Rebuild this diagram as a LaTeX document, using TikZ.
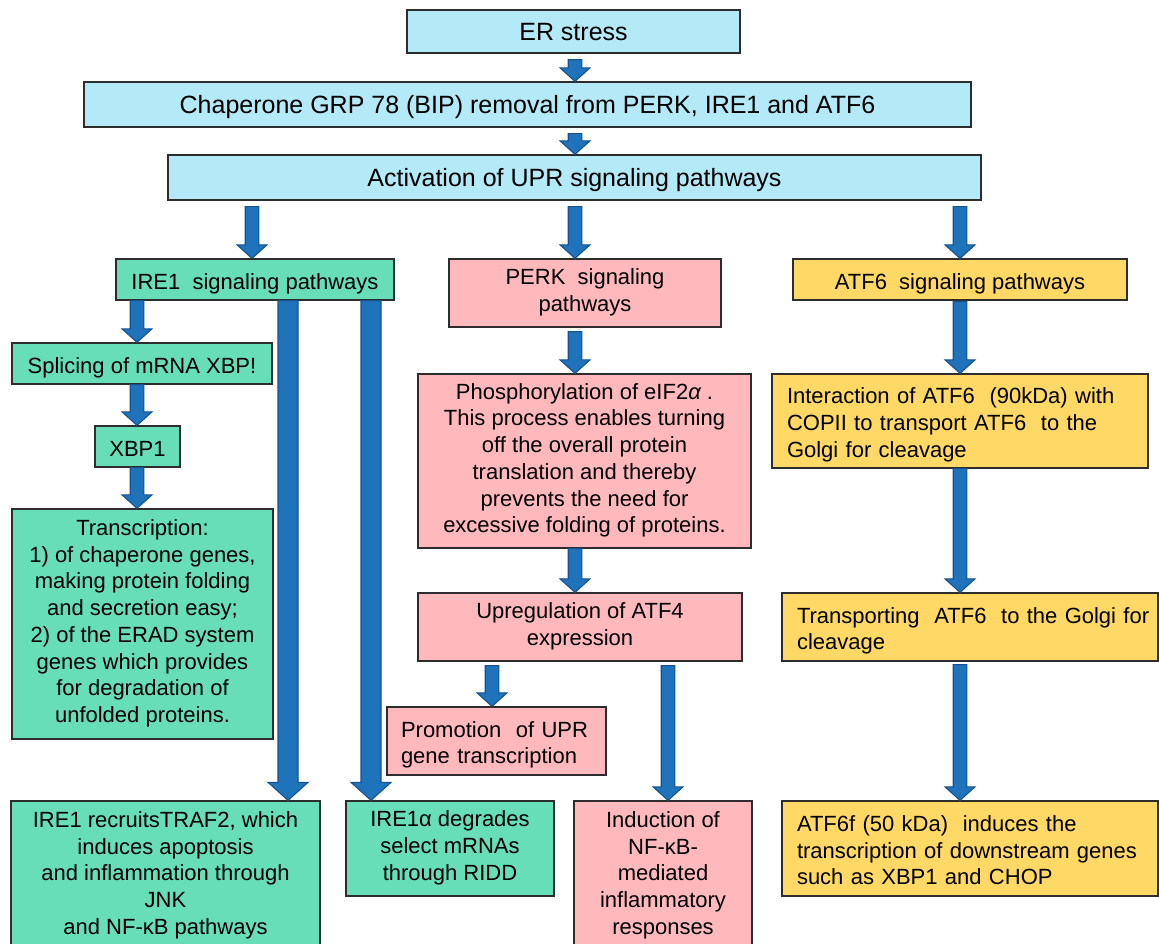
\documentclass[tikz,border=0pt]{standalone}
\usepackage{fontspec}
\setmainfont{Liberation Sans}
\usetikzlibrary{calc}
\definecolor{cy}{RGB}{180,234,248}
\definecolor{gr}{RGB}{103,222,184}
\definecolor{pk}{RGB}{255,185,189}
\definecolor{ye}{RGB}{255,216,102}
\definecolor{boxline}{RGB}{45,45,45}
\definecolor{arrfill}{RGB}{31,115,186}
\definecolor{arrline}{RGB}{22,82,145}
\newcommand\ftop{\fontsize{25}{30}\selectfont}
\newcommand\fboxtxt{\fontsize{22}{26.7}\selectfont}
\tikzset{
  box/.style={draw=boxline, line width=1.3pt, inner sep=0pt, align=center, font=\fboxtxt, text=black,
    execute at begin node={\rule{0pt}{25pt}}, execute at end node={\rule[-6pt]{0pt}{0pt}}},
  topbox/.style={box, fill=cy, font=\ftop,
    execute at begin node={\rule{0pt}{27pt}}, execute at end node={\rule[-9pt]{0pt}{0pt}}},
  lbox/.style={box, align=left, inner xsep=15pt},
  flowstyle/.style={fill=arrfill, draw=arrline, line width=1.1pt, line join=miter},
}
% #1 x, #2 from, #3 to, #4 gap, #5 half shaft, #6 half head, #7 head length
\newcommand\flowpoly[7]{%
  \filldraw[flowstyle] let \p2=(#2.south), \p3=(#3.north) in
   (#1pt-#5pt,\y2-#4pt) -- (#1pt-#5pt,\y3+#7pt) -- (#1pt-#6pt,\y3+#7pt) -- (#1pt,\y3)
   -- (#1pt+#6pt,\y3+#7pt) -- (#1pt+#5pt,\y3+#7pt) -- (#1pt+#5pt,\y2-#4pt) -- cycle;}
\newcommand\smallflow[4]{\flowpoly{#1}{#2}{#3}{#4}{6.8}{15}{13.5}}
\newcommand\bigflow[4]{\flowpoly{#1}{#2}{#3}{#4}{10}{20}{18}}
\begin{document}
\begin{tikzpicture}[x=1pt,y=-1pt]
\useasboundingbox (0,0) rectangle (1159,944);
\clip (0,0) rectangle (1159,944);
% top
\node[topbox,minimum width=333pt,minimum height=43pt] (er) at (573.5,31.5) {ER stress};
\node[topbox,minimum width=887pt,minimum height=45pt] (chap) at (527.5,104.5) {Chaperone GRP 78 (BIP) removal from PERK, IRE1 and ATF6};
\node[topbox,minimum width=813pt,minimum height=45pt] (act) at (574.5,177.5) {Activation of UPR signaling pathways};
% pathway heads
\node[box,fill=gr,minimum width=278pt,minimum height=41pt] (ire) at (255,279.5) {IRE1\ \ signaling pathways};
\node[box,fill=pk,minimum width=272pt,minimum height=68pt] (perk) at (585,293) {PERK\ \ signaling\\pathways};
\node[box,fill=ye,minimum width=334pt,minimum height=41pt] (atf) at (960,279.5) {ATF6\ \ signaling pathways};
% IRE1 branch
\node[box,fill=gr,minimum width=260pt,minimum height=41pt] (spl) at (142,363.5) {Splicing of mRNA XBP!};
\node[box,fill=gr,minimum width=85pt,minimum height=41pt] (xbp) at (137.5,446.5) {XBP1};
\node[box,fill=gr,minimum width=261pt,minimum height=230pt] (tr) at (142.5,624) {Transcription:\\1) of chaperone genes,\\making protein folding\\and secretion easy;\\2) of the ERAD system\\genes which provides\\for degradation of\\unfolded proteins.};
\node[box,fill=gr,minimum width=309pt,minimum height=150pt] (rec) at (165.5,876) {IRE1 recruitsTRAF2, which\\induces apoptosis\\and inflammation through\\JNK\\and NF-κB pathways};
\node[box,fill=gr,minimum width=208pt,minimum height=95pt] (deg) at (450,848.5) {IRE1α degrades\\select mRNAs\\through RIDD};
% PERK branch
\node[box,fill=pk,minimum width=333pt,minimum height=174pt] (ph) at (584.5,461) {Phosphorylation of eIF2{\itshape α}\ .\\This process enables turning\\off the overall protein\\translation and thereby\\prevents the need for\\excessive folding of proteins.};
\node[box,fill=pk,minimum width=324pt,minimum height=68pt] (up) at (580,627) {Upregulation of ATF4\\expression};
\node[lbox,fill=pk,text width=191pt,inner xsep=14pt,minimum height=68pt] (pro) at (496.5,741) {Promotion\ \ of UPR\\gene transcription};
\node[box,fill=pk,minimum width=178pt,minimum height=150pt] (ind) at (663,876) {Induction of\\NF-κB-\\mediated\\inflammatory\\responses};
% ATF6 branch
\node[lbox,fill=ye,text width=346pt,minimum height=94pt] (int) at (960,421) {\mbox{Interaction of ATF6\ \ (90kDa) with}\\\mbox{COPII to transport ATF6\ \ to the}\\Golgi for cleavage};
\node[lbox,fill=ye,text width=346pt,minimum height=68pt] (trn) at (970,627) {\mbox{Transporting\ \ ATF6\ \ to the Golgi for}\\cleavage};
\node[lbox,fill=ye,text width=346pt,minimum height=95pt] (a6f) at (970,848.5) {\mbox{ATF6f (50 kDa)\ \ induces the}\\\mbox{transcription of downstream genes}\\such as XBP1 and CHOP};
% arrows
\smallflow{575}{er}{chap}{6}
\smallflow{575}{chap}{act}{6}
\smallflow{252}{act}{ire}{6}
\smallflow{575}{act}{perk}{6}
\smallflow{960}{act}{atf}{6}
\smallflow{137}{ire}{spl}{0}
\smallflow{137}{spl}{xbp}{0}
\smallflow{137}{xbp}{tr}{0}
\bigflow{288}{ire}{rec}{0}
\bigflow{371}{ire}{deg}{0}
\smallflow{575}{perk}{ph}{4}
\smallflow{575}{ph}{up}{0}
\smallflow{492}{up}{pro}{4}
\smallflow{668}{up}{ind}{4}
\smallflow{960}{atf}{int}{1}
\smallflow{960}{int}{trn}{0}
\smallflow{960}{trn}{a6f}{3}
\end{tikzpicture}
\end{document}
